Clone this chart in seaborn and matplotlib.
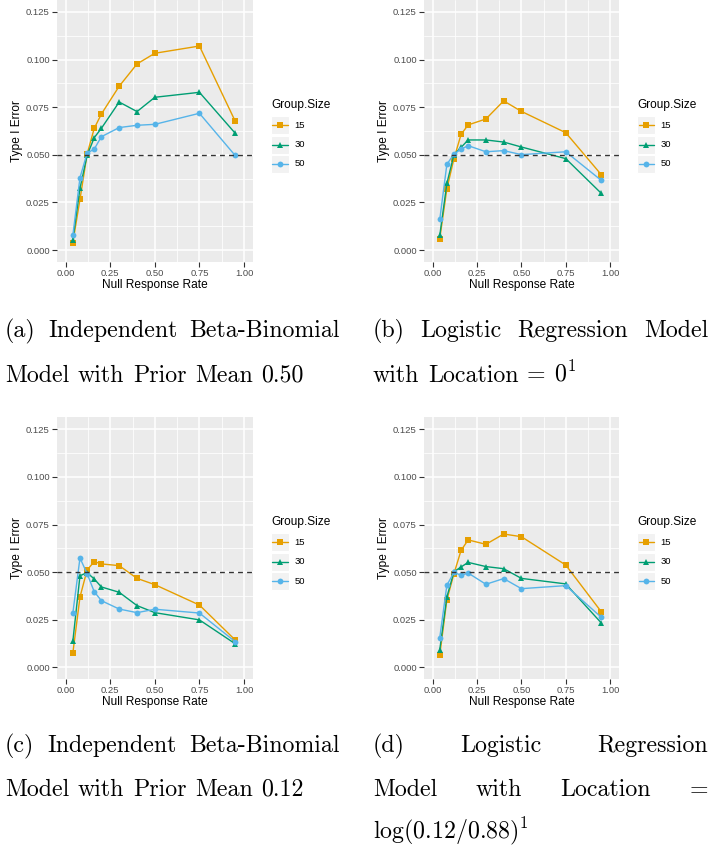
import matplotlib
matplotlib.use("Agg")
import numpy as np
import pandas as pd
import seaborn as sns
import matplotlib.pyplot as plt
from matplotlib.lines import Line2D
from matplotlib.patches import Rectangle

# ---------------------------------------------------------------- data
null_rate = [0.04, 0.08, 0.12, 0.16, 0.20, 0.30, 0.40, 0.50, 0.75, 0.95]
group_sizes = ["15", "30", "50"]

# (a) independent beta-binomial, prior mean 0.50
bb050_n15 = [0.0039, 0.0266, 0.0504, 0.0639, 0.0714, 0.0860, 0.0977, 0.1033, 0.1071, 0.0678]
bb050_n30 = [0.0053, 0.0324, 0.0497, 0.0590, 0.0639, 0.0777, 0.0727, 0.0802, 0.0828, 0.0614]
bb050_n50 = [0.0077, 0.0380, 0.0509, 0.0530, 0.0595, 0.0643, 0.0655, 0.0660, 0.0718, 0.0497]

# (b) logistic regression, location 0
lr0_n15 = [0.0060, 0.0322, 0.0480, 0.0607, 0.0657, 0.0688, 0.0783, 0.0728, 0.0616, 0.0396]
lr0_n30 = [0.0077, 0.0350, 0.0501, 0.0539, 0.0578, 0.0578, 0.0567, 0.0541, 0.0480, 0.0298]
lr0_n50 = [0.0161, 0.0450, 0.0504, 0.0530, 0.0548, 0.0516, 0.0522, 0.0501, 0.0516, 0.0366]

# (c) independent beta-binomial, prior mean 0.12
bb012_n15 = [0.0075, 0.0369, 0.0511, 0.0555, 0.0543, 0.0534, 0.0467, 0.0434, 0.0327, 0.0144]
bb012_n30 = [0.0137, 0.0481, 0.0497, 0.0464, 0.0422, 0.0394, 0.0324, 0.0287, 0.0249, 0.0124]
bb012_n50 = [0.0285, 0.0574, 0.0492, 0.0397, 0.0350, 0.0306, 0.0287, 0.0305, 0.0285, 0.0135]

# (d) logistic regression, location log(0.12/0.88)
lrlog_n15 = [0.0065, 0.0354, 0.0492, 0.0614, 0.0669, 0.0646, 0.0700, 0.0686, 0.0537, 0.0292]
lrlog_n30 = [0.0093, 0.0369, 0.0502, 0.0527, 0.0551, 0.0529, 0.0518, 0.0467, 0.0438, 0.0233]
lrlog_n50 = [0.0156, 0.0431, 0.0499, 0.0483, 0.0495, 0.0436, 0.0466, 0.0413, 0.0429, 0.0263]

nominal_alpha = 0.05
x_ticks = [0.0, 0.25, 0.5, 0.75, 1.0]
x_tick_labels = ["0.00", "0.25", "0.50", "0.75", "1.00"]
y_ticks = [0.0, 0.025, 0.05, 0.075, 0.1, 0.125]
y_tick_labels = ["0.000", "0.025", "0.050", "0.075", "0.100", "0.125"]

# ---------------------------------------------------------------- style
W, H = 710, 850
sns.set_theme(style="darkgrid")
plt.rcParams["font.family"] = ["Liberation Sans", "DejaVu Sans"]
plt.rcParams["mathtext.fontset"] = "cm"

palette = {"15": "#E69F00", "30": "#009E73", "50": "#56B4E9"}
marker_map = {"15": "s", "30": "^", "50": "o"}
PANEL_BG = "#EBEBEB"
MS = 4.2

fig = plt.figure(figsize=(W / 100, H / 100), dpi=100)
fig.patch.set_facecolor("white")


def px_axes(left, top, right, bottom):
    return fig.add_axes([left / W, 1 - bottom / H, (right - left) / W, (bottom - top) / H])


def make_frame(n15, n30, n50):
    return pd.DataFrame({
        "rate": null_rate * 3,
        "err": list(n15) + list(n30) + list(n50),
        "Group.Size": [g for g in group_sizes for _ in null_rate],
    })


def draw_panel(ax, df):
    ax.set_facecolor(PANEL_BG)
    sns.lineplot(data=df, x="rate", y="err", hue="Group.Size", style="Group.Size",
                 hue_order=group_sizes, palette=palette, markers=marker_map,
                 dashes=False, estimator=None, errorbar=None, legend=False,
                 linewidth=1.0, markersize=MS, markeredgewidth=0, ax=ax, zorder=3)
    ax.axhline(nominal_alpha, color="#333333", lw=1.0, ls=(0, (3.5, 3)), zorder=4)

    ax.set_xlim(-0.05, 1.05)
    ax.set_ylim(-0.00625, 0.13125)
    ax.set_xticks(x_ticks)
    ax.set_xticklabels(x_tick_labels)
    ax.set_yticks(y_ticks)
    ax.set_yticklabels(y_tick_labels)
    ax.set_xticks([0.125, 0.375, 0.625, 0.875], minor=True)
    ax.set_yticks([0.0125, 0.0375, 0.0625, 0.0875, 0.1125], minor=True)
    ax.grid(which="major", color="white", lw=1.1)
    ax.grid(which="minor", color="white", lw=0.55)
    ax.set_axisbelow(True)
    for s in ax.spines.values():
        s.set_visible(False)
    ax.tick_params(which="major", length=3.5, width=0.8, color="#333333",
                   labelsize=6.8, labelcolor="#4D4D4D", pad=1.5,
                   bottom=True, left=True)
    ax.tick_params(which="minor", length=0)

    ax.set_xlabel("Null Response Rate", fontsize=8.6, color="black")
    ax.set_ylabel("Type I Error", fontsize=8.6, color="black")
    ax.xaxis.label.set_va("center")
    ax.yaxis.label.set_va("center")
    ax.xaxis.set_label_coords(0.5, -23 / 262)
    ax.yaxis.set_label_coords(-40 / 196, 0.5)


def draw_legend(x0, top):
    """ggplot-style legend placed in pixel coordinates."""
    tf = fig.transFigure
    fig.text(x0 / W, 1 - (top + 105) / H, "Group.Size", fontsize=8.6,
             va="center", ha="left", color="black")
    for i, g in enumerate(group_sizes):
        cy = top + 125 + 19.5 * i
        fig.add_artist(Rectangle(((x0) / W, 1 - (cy + 9) / H), 18.3 / W, 18 / H,
                                 transform=tf, facecolor="#F2F2F2", edgecolor="white", lw=0.8))
        fig.add_artist(Line2D([(x0 + 1.5) / W, (x0 + 16.8) / W], [1 - cy / H] * 2,
                              transform=tf, color=palette[g], lw=1.0))
        fig.add_artist(Line2D([(x0 + 9.15) / W], [1 - cy / H], transform=tf,
                              marker=marker_map[g], color=palette[g], ms=MS, mew=0, ls="none"))
        fig.text((x0 + 23.5) / W, 1 - cy / H, g, fontsize=6.8, va="center",
                 ha="left", color="black")


panels = [
    ((56.8, 0.0, 252.9, 262.0), (bb050_n15, bb050_n30, bb050_n50)),
    ((423.8, 0.0, 619.0, 262.0), (lr0_n15, lr0_n30, lr0_n50)),
    ((56.8, 417.4, 252.9, 679.2), (bb012_n15, bb012_n30, bb012_n50)),
    ((423.8, 417.4, 619.0, 679.2), (lrlog_n15, lrlog_n30, lrlog_n50)),
]

for (l, t, r, b), series in panels:
    ax = px_axes(l, t, r, b)
    draw_panel(ax, make_frame(*series))
    draw_legend(r + 18, t)

# ---------------------------------------------------------------- captions
CAP_FS = 17.2
renderer = fig.canvas.get_renderer()


def caption_line(words, x0, baseline, x1=None):
    texts = [fig.text(0, 1 - baseline / H, w, fontsize=CAP_FS, family="cmr10",
                      va="baseline", ha="left", color="black") for w in words]
    widths = [t.get_window_extent(renderer).width for t in texts]
    if x1 is None or len(words) == 1:
        gap = 0.36 * CAP_FS * 100 / 72
    else:
        gap = (x1 - x0 - sum(widths)) / (len(words) - 1)
    x = x0
    for t, w in zip(texts, widths):
        t.set_x(x / W)
        x += w + gap


caption_line(["(a)", "Independent", "Beta-Binomial"], 5, 337.5, 340)
caption_line(["Model", "with", "Prior", "Mean", "0.50"], 5, 381.5)
caption_line(["(b)", "Logistic", "Regression", "Model"], 373, 337.5, 708)
caption_line(["with", "Location", "=", r"$0^1$"], 373, 381.5)

caption_line(["(c)", "Independent", "Beta-Binomial"], 5, 752, 340)
caption_line(["Model", "with", "Prior", "Mean", "0.12"], 5, 796)
caption_line(["(d)", "Logistic", "Regression"], 373, 752, 708)
caption_line(["Model", "with", "Location", "="], 373, 796, 708)
caption_line([r"$\log(0.12/0.88)^1$"], 373, 838)

fig.savefig("out.png", dpi=100)
